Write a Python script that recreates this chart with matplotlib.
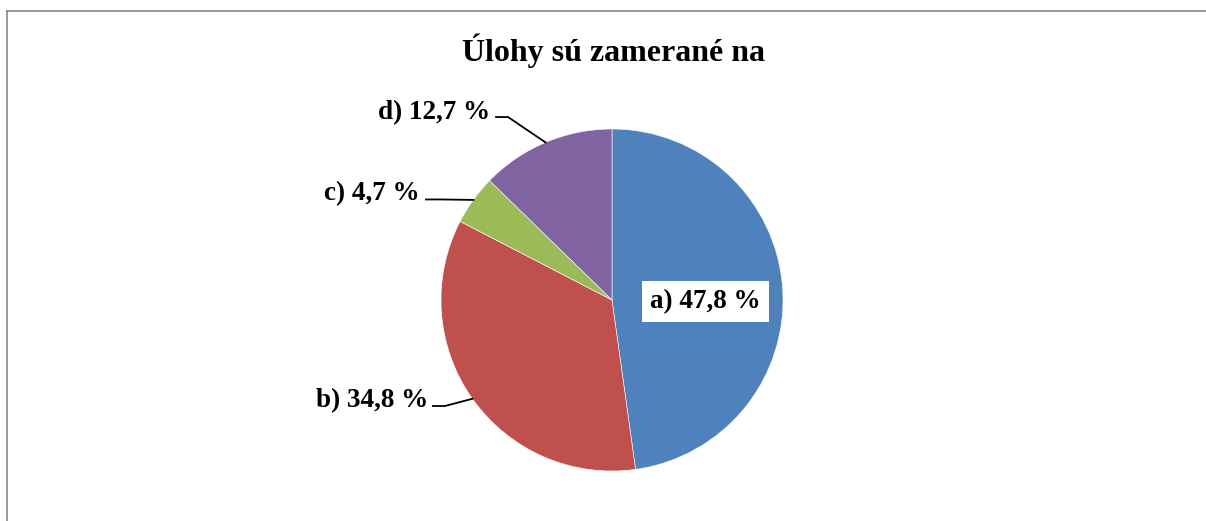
import numpy as np
import matplotlib.pyplot as plt
from matplotlib.lines import Line2D

plt.rcParams['font.family'] = ['Liberation Serif', 'DejaVu Serif']

title = 'Úlohy sú zamerané na'
labels = ['a)', 'b)', 'c)', 'd)']
values = [47.8, 34.8, 4.7, 12.7]
colors = ['#4F81BD', '#C0504D', '#9BBB59', '#8064A2']

fig = plt.figure(figsize=(12.06, 5.21), dpi=100)

# frame on the left and top (chart border)
fig.add_artist(Line2D([6.5 / 1206, 6.5 / 1206], [0, 1 - 10.5 / 521],
                      color='#888888', lw=1.2, transform=fig.transFigure))
fig.add_artist(Line2D([6.5 / 1206, 1], [1 - 10.5 / 521, 1 - 10.5 / 521],
                      color='#888888', lw=1.2, transform=fig.transFigure))

fig.text(613 / 1206, 1 - 51 / 521, title, ha='center', va='center',
         fontsize=23, fontweight='bold')

# pie centre (612, 300) px, radius 171 px
r = 171
ax = fig.add_axes([(612 - r) / 1206, (521 - 300 - r) / 521, 2 * r / 1206, 2 * r / 521])
wedges, _ = ax.pie(values, colors=colors, startangle=90, counterclock=False,
                   wedgeprops=dict(edgecolor='white', linewidth=0.4))
ax.set_xlim(-1, 1)
ax.set_ylim(-1, 1)
ax.set_aspect('auto')
ax.axis('off')

texts = ['%s %s %%' % (l, ('%.1f' % v).replace('.', ',')) for l, v in zip(labels, values)]

# mid angles of slices
angles = []
start = 90.0
for v in values:
    sweep = v / sum(values) * 360
    angles.append(np.deg2rad(start - sweep / 2))
    start -= sweep

fs = 19.5
# a) inside, white box
ax.text(0.547, -0.01, texts[0], ha='center', va='center', fontsize=fs, fontweight='bold',
        bbox=dict(boxstyle='square,pad=0.3', facecolor='white', edgecolor='none'))

# outside labels: (text x, text y, knee x, line y, line start x)
outside = {
    1: (-1.076, -0.59, -0.977, -0.620, -1.047),
    2: (-1.123, 0.622, -1.0, 0.588, -1.088),
    3: (-0.713, 1.096, -0.608, 1.070, -0.678),
}
for i, (tx, ty, kx, ly, sx) in outside.items():
    ex, ey = np.cos(angles[i]), np.sin(angles[i])
    ax.plot([sx, kx, ex], [ly, ly, ey], color='black', lw=1.3, clip_on=False)
    ax.text(tx, ty, texts[i], ha='right', va='center', fontsize=fs, fontweight='bold')

fig.savefig('out.png', dpi=100)
